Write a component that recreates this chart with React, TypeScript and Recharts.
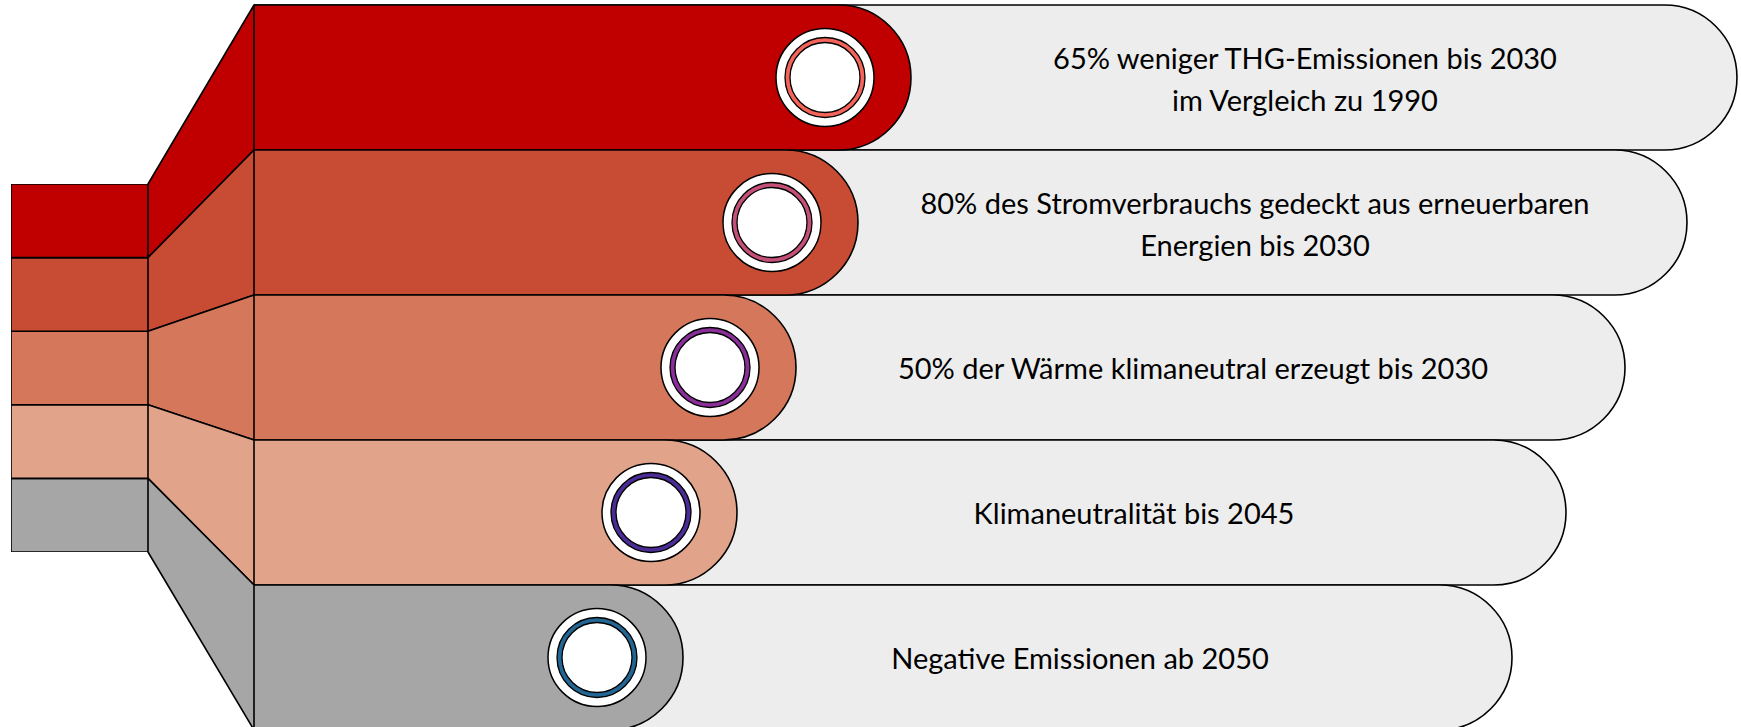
import React from "react"
import { BarChart, Bar, XAxis, YAxis, Cell, Customized } from "recharts"

// goals, top to bottom
const goalLines: string[][] = [
 ["65% weniger THG-Emissionen bis 2030", "im Vergleich zu 1990"],
 ["80% des Stromverbrauchs gedeckt aus erneuerbaren", "Energien bis 2030"],
 ["50% der Wärme klimaneutral erzeugt bis 2030"],
 ["Klimaneutralität bis 2045"],
 ["Negative Emissionen ab 2050"],
]
const labelLength = [1483, 1433, 1371, 1312, 1258]
const progress = [657, 604, 542, 483, 429]
const shares = [1, 1, 1, 1, 1]

const barColors = ["#C00000", "#C84B33", "#D5775B", "#E1A38A", "#A6A6A6"]
const ringColors = ["#F4645A", "#C4507A", "#8A2F9A", "#4B2C96", "#236593"]
const TRACK = "#EDEDED"
const LINE = "#000"

const W = 1741
const H = 740
const MAIN_LEFT = 254
const MAIN_TOP = 5
const MAIN_BOTTOM = 10
const ROW_H = (H - MAIN_TOP - MAIN_BOTTOM) / goalLines.length

const BLOCK_LEFT = 11
const BLOCK_TOP = 184
const BLOCK_W = 137
const BLOCK_H = 368

const rows = goalLines.map((lines, i) => ({
 goal: lines.join(" "),
 lines,
 track: labelLength[i],
 done: progress[i],
}))

const blockRow: Record<string, number | string> = { name: "share" }
shares.forEach((s, i) => (blockRow["s" + i] = s))
const blockTotal = shares.reduce((a, b) => a + b, 0)

function pill(x: number, y: number, w: number, h: number) {
 const r = h / 2
 return `M${x},${y} H${x + w - r} A${r},${r} 0 0 1 ${x + w - r},${y + h} H${x} Z`
}

function TrackShape(props: any) {
 const { x, y, width, height, payload } = props
 const cx = x + width - 432
 const cy = y + height / 2
 const lines: string[] = payload.lines
 const offs = lines.length === 1 ? [0] : [-20, 22]
 return (
 <g>
 <path d={pill(x, y, width, height)} fill={TRACK} stroke={LINE} strokeWidth={1.6} />
 {lines.map((t, k) => (
 <text
 key={k}
 x={cx}
 y={cy + offs[k]}
 textAnchor="middle"
 dominantBaseline="central"
 fontFamily="Lato, 'Open Sans', sans-serif"
 fontSize={29}
 fill="#000"
 >
 {t}
 </text>
 ))}
 </g>
 )
}

function ProgressShape(props: any) {
 const { x, y, width, height, fill, index } = props
 const cx = x + width - 86
 const cy = y + height / 2
 return (
 <g>
 <path d={pill(x, y, width, height)} fill={fill} stroke={LINE} strokeWidth={1.6} />
 <circle cx={cx} cy={cy} r={49} fill="#fff" stroke={LINE} strokeWidth={1.5} />
 <circle cx={cx} cy={cy} r={40} fill={ringColors[index]} stroke={LINE} strokeWidth={1.3} />
 <circle cx={cx} cy={cy} r={35} fill="#fff" stroke={LINE} strokeWidth={1.3} />
 </g>
 )
}

// funnel pieces linking the small block to the big rows
function Connectors() {
 const n = shares.length
 const lb: number[] = [BLOCK_TOP]
 let acc = 0
 shares.forEach((s) => {
 acc += s
 lb.push(BLOCK_TOP + (acc / blockTotal) * BLOCK_H)
 })
 const x0 = BLOCK_LEFT + BLOCK_W
 const x1 = MAIN_LEFT
 return (
 <g>
 {Array.from({ length: n }).map((_, i) => {
 const m0 = MAIN_TOP + i * ROW_H
 const m1 = MAIN_TOP + (i + 1) * ROW_H
 const pts = `${x0},${lb[i]} ${x1},${m0} ${x1},${m1} ${x0},${lb[i + 1]}`
 return (
 <polygon key={i} points={pts} fill={barColors[i]} stroke={LINE} strokeWidth={1.6} strokeLinejoin="round" />
 )
 })}
 </g>
 )
}

export default function App() {
 return (
 <div style={{ position: "absolute", left: 0, top: 0, width: W, height: 727, overflow: "hidden", background: "#fff" }}>
 <BarChart
 width={W}
 height={H}
 data={rows}
 layout="vertical"
 barCategoryGap={0}
 barGap={0}
 margin={{ top: MAIN_TOP, right: 0, bottom: MAIN_BOTTOM, left: MAIN_LEFT }}
 >
 <XAxis type="number" domain={[0, W - MAIN_LEFT]} hide allowDataOverflow />
 <YAxis yAxisId="track" type="category" dataKey="goal" hide />
 <YAxis yAxisId="done" type="category" dataKey="goal" hide />
 <Customized component={<Connectors />} />
 <Bar yAxisId="track" dataKey="track" shape={<TrackShape />} isAnimationActive={false} />
 <Bar yAxisId="done" dataKey="done" shape={<ProgressShape />} isAnimationActive={false}>
 {rows.map((r, i) => (
 <Cell key={r.goal} fill={barColors[i]} />
 ))}
 </Bar>
 </BarChart>
 <div style={{ position: "absolute", left: BLOCK_LEFT, top: BLOCK_TOP }}>
 <BarChart
 width={BLOCK_W}
 height={BLOCK_H}
 data={[blockRow]}
 barCategoryGap={0}
 margin={{ top: 0, right: 0, bottom: 0, left: 0 }}
 >
 <XAxis dataKey="name" hide />
 <YAxis type="number" domain={[0, blockTotal]} hide />
 {shares
 .map((_, i) => i)
 .reverse()
 .map((i) => (
 <Bar
 key={i}
 dataKey={"s" + i}
 stackId="b"
 fill={barColors[i]}
 stroke={LINE}
 strokeWidth={1.6}
 isAnimationActive={false}
 />
 ))}
 </BarChart>
 </div>
 </div>
 )
}
